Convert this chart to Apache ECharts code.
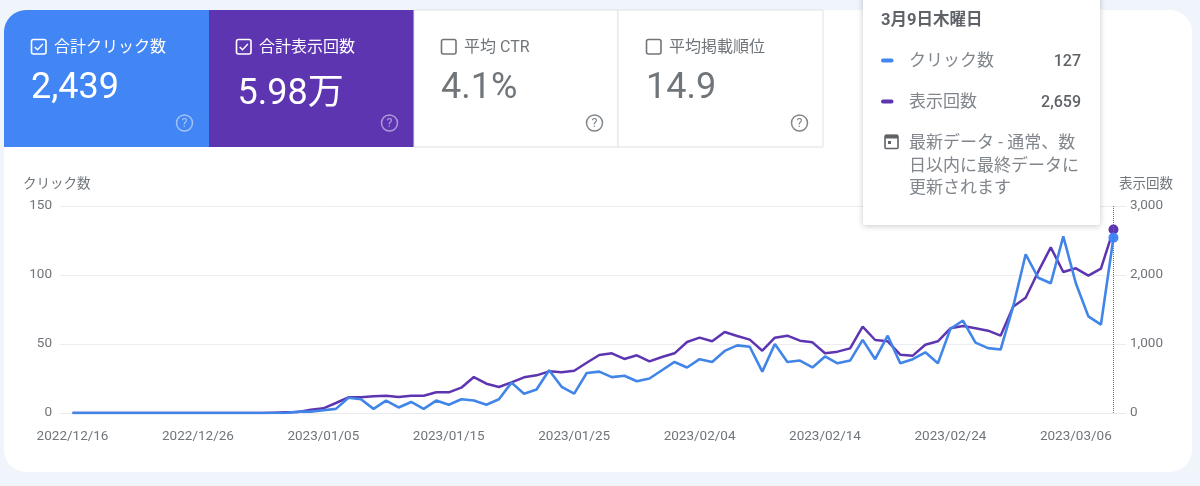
<!DOCTYPE html>
<html>
<head>
<meta charset="utf-8">
<style>html,body{margin:0;padding:0;background:#f0f4fb}#c{width:1200px;height:486px}</style>
<script src="https://cdn.jsdelivr.net/npm/echarts@6/dist/echarts.min.js"></script>
</head>
<body>
<div id="c"></div>
<script>
const dates = ["2022/12/16","2022/12/17","2022/12/18","2022/12/19","2022/12/20","2022/12/21","2022/12/22","2022/12/23","2022/12/24","2022/12/25",
"2022/12/26","2022/12/27","2022/12/28","2022/12/29","2022/12/30","2022/12/31","2023/01/01","2023/01/02","2023/01/03","2023/01/04",
"2023/01/05","2023/01/06","2023/01/07","2023/01/08","2023/01/09","2023/01/10","2023/01/11","2023/01/12","2023/01/13","2023/01/14",
"2023/01/15","2023/01/16","2023/01/17","2023/01/18","2023/01/19","2023/01/20","2023/01/21","2023/01/22","2023/01/23","2023/01/24",
"2023/01/25","2023/01/26","2023/01/27","2023/01/28","2023/01/29","2023/01/30","2023/01/31","2023/02/01","2023/02/02","2023/02/03",
"2023/02/04","2023/02/05","2023/02/06","2023/02/07","2023/02/08","2023/02/09","2023/02/10","2023/02/11","2023/02/12","2023/02/13",
"2023/02/14","2023/02/15","2023/02/16","2023/02/17","2023/02/18","2023/02/19","2023/02/20","2023/02/21","2023/02/22","2023/02/23",
"2023/02/24","2023/02/25","2023/02/26","2023/02/27","2023/02/28","2023/03/01","2023/03/02","2023/03/03","2023/03/04","2023/03/05",
"2023/03/06","2023/03/07","2023/03/08","2023/03/09"];
const clicks = [0,0,0,0,0,0,0,0,0,0,0,0,0,0,0,0,0,0,1,1,2,3,11,10,3,9,4,8,3,9,6,10,9,6,10,22,14,17,31,19,14,29,30,26,27,23,25,31,37,33,39,37,45,49,48,30,50,37,38,33,41,36,38,53,39,56,36,39,44,36,61,67,51,47,46,77,115,98,94,128,94,70,64,127];
const impressions = [0,0,0,0,0,0,0,0,0,0,0,0,0,0,0,0,5,10,14,48,68,145,227,227,241,251,232,251,251,300,300,367,521,425,377,444,517,546,604,589,613,729,841,865,783,836,749,812,865,1029,1092,1039,1174,1116,1063,903,1092,1121,1048,1024,865,889,937,1251,1058,1039,845,831,990,1039,1227,1261,1227,1193,1121,1541,1671,2048,2401,2043,2097,1990,2092,2659];
const leftTicks = [0,50,100,150];
const rightTicks = [0,1000,2000,3000];

const FONT = 'Roboto, "Noto Sans CJK JP", sans-serif';
const BLUE = '#4285f4', PURPLE = '#5e35b1', GREY = '#5f6368', LIGHT = '#80868b';

function txt(x, y, text, size, fill, extra) {
  return {
    type: 'text', x, y, z: 20,
    style: { text, font: `${(extra && extra.weight) || 400} ${size}px ${FONT}`, fill, textVerticalAlign: 'middle', textAlign: (extra && extra.align) || 'left' }
  };
}
function rect(x, y, w, h, fill, r, extra) {
  return { type: 'rect', z: (extra && extra.z) || 10, shape: { x, y, width: w, height: h, r: r || 0 },
    style: Object.assign({ fill }, (extra && extra.style) || {}) };
}
function check(x, y, color, checked) {
  const out = [{ type: 'rect', z: 20, shape: { x, y, width: 14.5, height: 14.5, r: 2 }, style: { fill: 'none', stroke: color, lineWidth: 1.6 } }];
  if (checked) out.push({ type: 'polyline', z: 20, shape: { points: [[x + 3.2, y + 7.4], [x + 6, y + 10.2], [x + 11.4, y + 4.4]] }, style: { fill: 'none', stroke: color, lineWidth: 1.4 } });
  return out;
}
function help(cx, cy, color) {
  return [
    { type: 'circle', z: 20, shape: { cx, cy, r: 8 }, style: { fill: 'none', stroke: color, lineWidth: 1.5 } },
    txt(cx, cy + 0.5, '?', 12.5, color, { align: 'center' })
  ];
}
function card(x, label, value, valueY, color, checked, qColor) {
  return [
    ...check(x + 27.5, 39.5, color, checked),
    txt(x + 50, 47.5, label, 16, color),
    txt(x + (valueY > 90 ? 28.5 : 27), valueY, value, 36, color),
    ...help(x + 180.5, 123, qColor)
  ];
}

const graphics = [
  { type: 'rect', z: 0, silent: true, shape: { x: 4, y: 10, width: 1188, height: 462, r: 22 }, style: { fill: '#ffffff' } },
  { type: 'rect', z: 10, shape: { x: 4, y: 10, width: 205, height: 137, r: [22, 0, 0, 0] }, style: { fill: BLUE } },
  rect(209, 10, 205, 137, PURPLE),
  rect(414, 10, 204, 137, '#ffffff', 0, { style: { stroke: '#dfe1e5', lineWidth: 1 } }),
  rect(618, 10, 205, 137, '#ffffff', 0, { style: { stroke: '#dfe1e5', lineWidth: 1 } }),
  ...card(4, '合計クリック数', '2,439', 88.5, '#ffffff', true, 'rgba(255,255,255,.5)'),
  ...card(209, '合計表示回数', '5.98万', 95, '#ffffff', true, 'rgba(255,255,255,.5)'),
  ...card(414, '平均 CTR', '4.1%', 88.5, '#70757a', false, '#80868b'),
  ...card(619, '平均掲載順位', '14.9', 88.5, '#70757a', false, '#80868b'),
  { type: 'rect', z: 30, shape: { x: 863, y: -8, width: 237, height: 233, r: 2 },
    style: { fill: '#ffffff', shadowBlur: 6, shadowColor: 'rgba(0,0,0,.22)', shadowOffsetY: 1 } },
  ...[
    txt(881, 21, '3月9日木曜日', 16.5, GREY, { weight: 700 }),
    txt(909, 61.5, 'クリック数', 17, LIGHT),
    txt(1081, 62, '127', 16, GREY, { weight: 500, align: 'right' }),
    txt(909, 103, '表示回数', 17, LIGHT),
    txt(1081, 103, '2,659', 16, GREY, { weight: 500, align: 'right' }),
    txt(909, 144, '最新データ - 通常、数', 17, LIGHT),
    txt(909, 166.5, '日以内に最終データに', 17, LIGHT),
    txt(909, 189, '更新されます', 17, LIGHT)
  ].map(t => Object.assign(t, { z: 31 })),
  { type: 'rect', z: 31, shape: { x: 881, y: 58.5, width: 12.5, height: 4, r: 2 }, style: { fill: BLUE } },
  { type: 'rect', z: 31, shape: { x: 881, y: 99.5, width: 12.5, height: 4, r: 2 }, style: { fill: PURPLE } },
  { type: 'rect', z: 31, shape: { x: 885, y: 135.5, width: 13, height: 13, r: 1 }, style: { fill: 'none', stroke: '#5f6368', lineWidth: 1.6 } },
  { type: 'rect', z: 31, shape: { x: 885, y: 134.5, width: 13, height: 4, r: 0.5 }, style: { fill: '#5f6368' } },
  { type: 'rect', z: 31, shape: { x: 888, y: 141, width: 3, height: 3 }, style: { fill: '#5f6368' } }
];

const cats = ['', ...dates, ''];
const pad = (arr, color) => {
  const d = arr.map((v, i) => i === arr.length - 1
    ? { value: v, symbol: 'circle', symbolSize: 10, itemStyle: { color } }
    : v);
  return [null, ...d, null];
};

const chart = echarts.init(document.getElementById('c'), null, { renderer: 'canvas', width: 1200, height: 486 });
chart.setOption({
  animation: false,
  backgroundColor: '#f0f4fb',
  textStyle: { fontFamily: FONT },
  grid: { left: 60, right: 74, top: 206, bottom: 73 },
  xAxis: {
    type: 'category', boundaryGap: false, data: cats,
    axisLine: { lineStyle: { color: '#e8eaed', width: 1 } },
    axisTick: { show: false },
    axisLabel: { color: '#70757a', fontSize: 13.5, margin: 17, fontFamily: FONT, interval: i => (i - 1) % 10 === 0 && i > 0 && i < cats.length - 1 },
    splitLine: { show: false }
  },
  yAxis: [
    { type: 'value', min: 0, max: leftTicks[3], interval: leftTicks[1], name: 'クリック数', nameLocation: 'end', nameGap: 15,
      nameTextStyle: { color: '#70757a', fontSize: 13.5, align: 'left', padding: [0, 0, 0, -37] },
      axisLine: { show: false }, axisTick: { show: false },
      axisLabel: { color: '#70757a', fontSize: 13.5, margin: 8 },
      splitLine: { lineStyle: { color: '#ebedf0', width: 1 } } },
    { type: 'value', min: 0, max: rightTicks[3], interval: rightTicks[1], name: '表示回数', nameLocation: 'end', nameGap: 15,
      nameTextStyle: { color: '#70757a', fontSize: 13.5, align: 'right', padding: [0, -47, 0, 0] },
      axisLine: { show: false }, axisTick: { show: false },
      axisLabel: { color: '#70757a', fontSize: 13.5, margin: 4, formatter: v => v.toLocaleString('en-US') },
      splitLine: { show: false } }
  ],
  series: [
    { name: '表示回数', type: 'line', yAxisIndex: 1, data: pad(impressions, PURPLE), symbol: 'none', showSymbol: true, showAllSymbol: true,
      connectNulls: false, lineStyle: { color: PURPLE, width: 2.5 }, itemStyle: { color: PURPLE }, z: 3 },
    { name: 'クリック数', type: 'line', yAxisIndex: 0, data: pad(clicks, BLUE), symbol: 'none', showSymbol: true, showAllSymbol: true,
      connectNulls: false, lineStyle: { color: '#4285e8', width: 2.6 }, itemStyle: { color: BLUE }, z: 4,
      markLine: { silent: true, symbol: 'none', label: { show: false }, lineStyle: { color: '#6f7478', type: 'dotted', width: 1 },
        data: [{ xAxis: dates[dates.length - 1] }] } }
  ],
  graphic: { elements: graphics }
});
</script>
</body>
</html>
